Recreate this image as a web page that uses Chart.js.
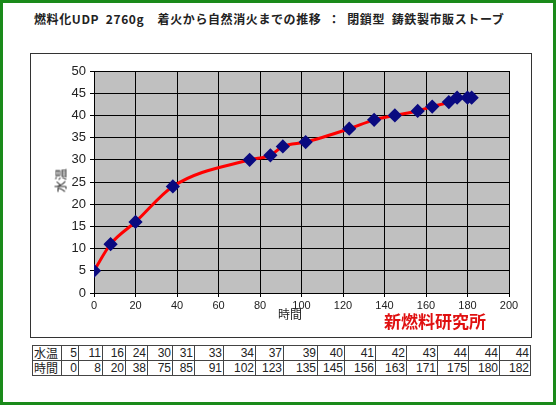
<!DOCTYPE html>
<html>
<head>
<meta charset="utf-8">
<script src="https://cdn.jsdelivr.net/npm/chart.js@4"></script>
<style>
  body { margin: 0; background: #fff; font-family: "Noto Sans CJK JP", sans-serif; }
  #frame { position: absolute; left: 0; top: 0; width: 550px; height: 399px; border: 3px solid #1a8a1a; }
  #title { position: absolute; left: 34px; top: 10px; font-size: 12px; font-weight: bold; color: #222; white-space: pre; letter-spacing: 0.6px; }
  #box { position: absolute; left: 30px; top: 53px; width: 500px; height: 283px; border: 1px solid #333; }
  #box canvas { position: absolute; left: 0; top: 0; }
  .lbl { position: absolute; font-size: 12px; color: #222; }
  #mark { position: absolute; left: 353px; top: 254px; font-size: 17px; font-weight: bold; color: #e01010; }
  table { position: absolute; left: 32px; top: 345px; border-collapse: collapse; font-family: Arial, "Liberation Sans", sans-serif; font-size: 12px; color: #222; table-layout: fixed; }
  td { border: 1px solid #444; padding: 0 1px; text-align: right; height: 14px; line-height: 14px; }
  td.h { text-align: left; font-family: "Noto Sans CJK JP", sans-serif; }
</style>
</head>
<body>
<div id="frame"></div>
<div id="title">燃料化UDP  2760g    着火から自然消火までの推移  ：  閉鎖型  鋳鉄製市販ストーブ</div>
<div id="box">
  <canvas id="c" width="500" height="283"></canvas>
  <div class="lbl" style="left:17px;top:118px;transform:rotate(-90deg);">水温</div>
  <div class="lbl" style="left:247px;top:251px;">時間</div>
  <div id="mark">新燃料研究所</div>
</div>
<table id="tbl"></table>
<script>
const times = [0, 8, 20, 38, 75, 85, 91, 102, 123, 135, 145, 156, 163, 171, 175, 180, 182];
const temps = [5, 11, 16, 24, 30, 31, 33, 34, 37, 39, 40, 41, 42, 43, 44, 44, 44];
const colWidths = [29, 17, 24, 23, 22, 25, 22, 29, 32, 28, 34, 27, 31, 31, 31, 31, 31, 31];

// data table under the chart
const tbl = document.getElementById('tbl');
const cg = document.createElement('colgroup');
colWidths.forEach(w => { const c = document.createElement('col'); c.style.width = w + 'px'; cg.appendChild(c); });
tbl.appendChild(cg);
[['水温', temps], ['時間', times]].forEach(([name, vals]) => {
  const tr = document.createElement('tr');
  tr.innerHTML = '<td class="h">' + name + '</td>' + vals.map(v => '<td>' + v + '</td>').join('');
  tbl.appendChild(tr);
});

const plotBg = {
  id: 'plotBg',
  beforeDraw(chart) {
    const { ctx, chartArea: a } = chart;
    ctx.save();
    ctx.fillStyle = '#c0c0c0';
    ctx.fillRect(a.left, a.top, a.right - a.left, a.bottom - a.top);
    ctx.restore();
  }
};

new Chart(document.getElementById('c'), {
  type: 'scatter',
  data: {
    datasets: [{
      data: times.map((t, i) => ({ x: t, y: temps[i] })),
      showLine: true,
      tension: 0.3,
      cubicInterpolationMode: 'monotone',
      borderColor: '#ff0000',
      borderWidth: 3,
      pointStyle: 'rectRot',
      pointRadius: 5,
      pointBackgroundColor: '#0a0a80',
      pointBorderColor: '#0a0a80',
    }],
  },
  options: {
    responsive: false,
    animation: false,
    layout: { padding: { top: 17, right: 22, left: 0, bottom: 0 } },
    plugins: { legend: { display: false }, tooltip: { enabled: false } },
    scales: {
      x: {
        min: 0, max: 200,
        ticks: { stepSize: 20, color: '#222', font: { size: 11 }, padding: 2 },
        grid: { color: '#000', drawTicks: true, tickLength: 4 },
        border: { color: '#000' },
        afterFit(s) { s.height = 44; },
      },
      y: {
        min: 0, max: 50,
        ticks: { stepSize: 5, color: '#222', font: { size: 13 }, padding: 4 },
        grid: { color: '#000', tickLength: 4 },
        border: { color: '#000' },
        afterFit(s) { s.width = 63; },
      },
    },
  },
  plugins: [plotBg],
});
</script>
</body>
</html>
